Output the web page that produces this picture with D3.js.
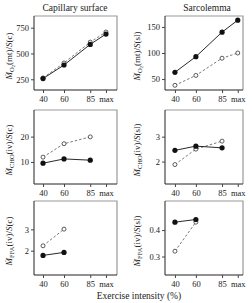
<!DOCTYPE html>
<meta charset="utf-8" />
<script src="https://d3js.org/d3.v7.min.js"></script>
<style>
  body { margin: 0; background: #fff; }
  text { font-family: "Liberation Serif", "DejaVu Serif", serif; fill: #222; }
</style>
<div id="chart"></div>
<script>
  // exercise intensity (% of max), "max" drawn at 100
  const intensity = [40, 60, 85, 100];
  const intensityLabels = ["40", "60", "85", "max"];

  // O2 flux per surface
  const capO2Filled = [257, 388, 588, 688];
  const capO2Open = [263, 408, 610, 708];
  const sarcO2Filled = [63, 93, 140, 163];
  const sarcO2Open = [38, 57, 90, 100];

  // carbohydrate flux
  const capCHOFilled = [9.5, 11.2, 10.7];
  const capCHOOpen = [11.9, 17.2, 19.9];
  const sarcCHOFilled = [2.45, 2.62, 2.55];
  const sarcCHOOpen = [1.88, 2.5, 2.82];

  // fatty acid flux
  const capFFAFilled = [1.78, 1.92];
  const capFFAOpen = [2.23, 3.01];
  const sarcFFAFilled = [0.43, 0.44];
  const sarcFFAOpen = [0.32, 0.43];

  const capO2Ticks = [250, 500, 750];
  const sarcO2Ticks = [50, 100, 150];
  const capCHOTicks = [10, 20];
  const sarcCHOTicks = [2, 3];
  const capFFATicks = [2, 3];
  const sarcFFATicks = [0.3, 0.4];

  const W = 252, H = 303;
  const cols = [
    { x0: 34, x1: 117, dom: [31.4, 110.5], labX: 12 },
    { x0: 165, x1: 243, dom: [30.5, 105], labX: 140 }
  ];
  const rowTop = [16, 110, 201];
  const rowH = 74;

  const panels = [
    { r: 0, c: 0, filled: capO2Filled, open: capO2Open, ticks: capO2Ticks, dom: [146, 863], sub: "O", sub2: "2", tail: "(mt)/", s: "S", end: "(c)" },
    { r: 0, c: 1, filled: sarcO2Filled, open: sarcO2Open, ticks: sarcO2Ticks, dom: [29, 171], sub: "O", sub2: "2", tail: "(mt)/", s: "S", end: "(sl)" },
    { r: 1, c: 0, filled: capCHOFilled, open: capCHOOpen, ticks: capCHOTicks, dom: [1.3, 30.5], sub: "CHO", sub2: "", tail: "(iv)/", s: "S", end: "(c)" },
    { r: 1, c: 1, filled: sarcCHOFilled, open: sarcCHOOpen, ticks: sarcCHOTicks, dom: [1.1, 4.07], sub: "CHO", sub2: "", tail: "(iv)/", s: "S", end: "(sl)" },
    { r: 2, c: 0, filled: capFFAFilled, open: capFFAOpen, ticks: capFFATicks, dom: [0.86, 4.33], sub: "FFA", sub2: "", tail: "(iv)/", s: "S", end: "(c)" },
    { r: 2, c: 1, filled: sarcFFAFilled, open: sarcFFAOpen, ticks: sarcFFATicks, dom: [0.23, 0.51], sub: "FFA", sub2: "", tail: "(iv)/", s: "S", end: "(sl)", fmt: ".1f" }
  ];

  const svg = d3.select("#chart").append("svg")
    .attr("width", W).attr("height", H);

  // column titles
  svg.append("text").attr("x", 75).attr("y", 11).attr("text-anchor", "middle")
    .style("font-size", "9.5px").text("Capillary surface");
  svg.append("text").attr("x", 207).attr("y", 11).attr("text-anchor", "middle")
    .style("font-size", "9.5px").text("Sarcolemma");

  panels.forEach(function (p) {
    const col = cols[p.c];
    const top = rowTop[p.r], bot = top + rowH;
    const x = d3.scaleLinear().domain(col.dom).range([col.x0, col.x1]);
    const y = d3.scaleLinear().domain(p.dom).range([bot, top]);
    const g = svg.append("g");

    // frame: top/right grey
    g.append("path")
      .attr("d", "M" + col.x0 + "," + top + "H" + col.x1 + "V" + bot)
      .attr("fill", "none").attr("stroke", "#999").attr("stroke-width", 1.2);

    const ya = g.append("g").attr("transform", "translate(" + col.x0 + ",0)")
      .call(d3.axisLeft(y).tickValues(p.ticks).tickSize(3).tickPadding(2)
        .tickFormat(p.fmt ? d3.format(p.fmt) : d3.format("d")));
    ya.select(".domain").attr("d", "M0," + top + "V" + bot).attr("stroke", "#222");

    const xa = g.append("g").attr("transform", "translate(0," + bot + ")")
      .call(d3.axisBottom(x).tickValues(intensity).tickSize(3).tickPadding(3)
        .tickFormat(function (d, i) { return intensityLabels[i]; }));
    xa.select(".domain").attr("d", "M" + col.x0 + ",0H" + col.x1).attr("stroke", "#222");

    [ya, xa].forEach(function (a) {
      a.selectAll("text").style("font-size", "8.5px")
        .style("font-family", "Liberation Serif").attr("fill", "#222");
      a.selectAll("line").attr("stroke", "#444");
    });

    const line = d3.line()
      .x(function (d, i) { return x(intensity[i]); })
      .y(function (d) { return y(d); });

    g.append("path").datum(p.open).attr("d", line)
      .attr("fill", "none").attr("stroke", "#555").attr("stroke-width", 0.8)
      .attr("stroke-dasharray", "2.5,2");
    g.append("path").datum(p.filled).attr("d", line)
      .attr("fill", "none").attr("stroke", "#111").attr("stroke-width", 0.9);

    g.selectAll(".op").data(p.open).enter().append("circle")
      .attr("cx", function (d, i) { return x(intensity[i]); })
      .attr("cy", function (d) { return y(d); })
      .attr("r", 2).attr("fill", "#fff").attr("stroke", "#333").attr("stroke-width", 0.8);
    g.selectAll(".fp").data(p.filled).enter().append("circle")
      .attr("cx", function (d, i) { return x(intensity[i]); })
      .attr("cy", function (d) { return y(d); })
      .attr("r", 2.6).attr("fill", "#111");

    // rotated y label
    const cy = (top + bot) / 2 + 3;
    const t = g.append("text")
      .attr("transform", "translate(" + col.labX + "," + cy + ") rotate(-90)")
      .attr("text-anchor", "middle").style("font-size", "9px");
    t.append("tspan").style("font-style", "italic").text("\u1E40");
    t.append("tspan").attr("dy", 2).style("font-size", "6.5px").text(p.sub);
    let back = 2;
    if (p.sub2) {
      t.append("tspan").attr("dy", 1).style("font-size", "5px").text(p.sub2);
      back = 3;
    }
    t.append("tspan").attr("dy", -back).text(p.tail);
    t.append("tspan").style("font-style", "italic").text(p.s);
    t.append("tspan").text(p.end);
  });

  svg.append("text").attr("x", 139).attr("y", 299).attr("text-anchor", "middle")
    .style("font-size", "9.5px").text("Exercise intensity (%)");
</script>
